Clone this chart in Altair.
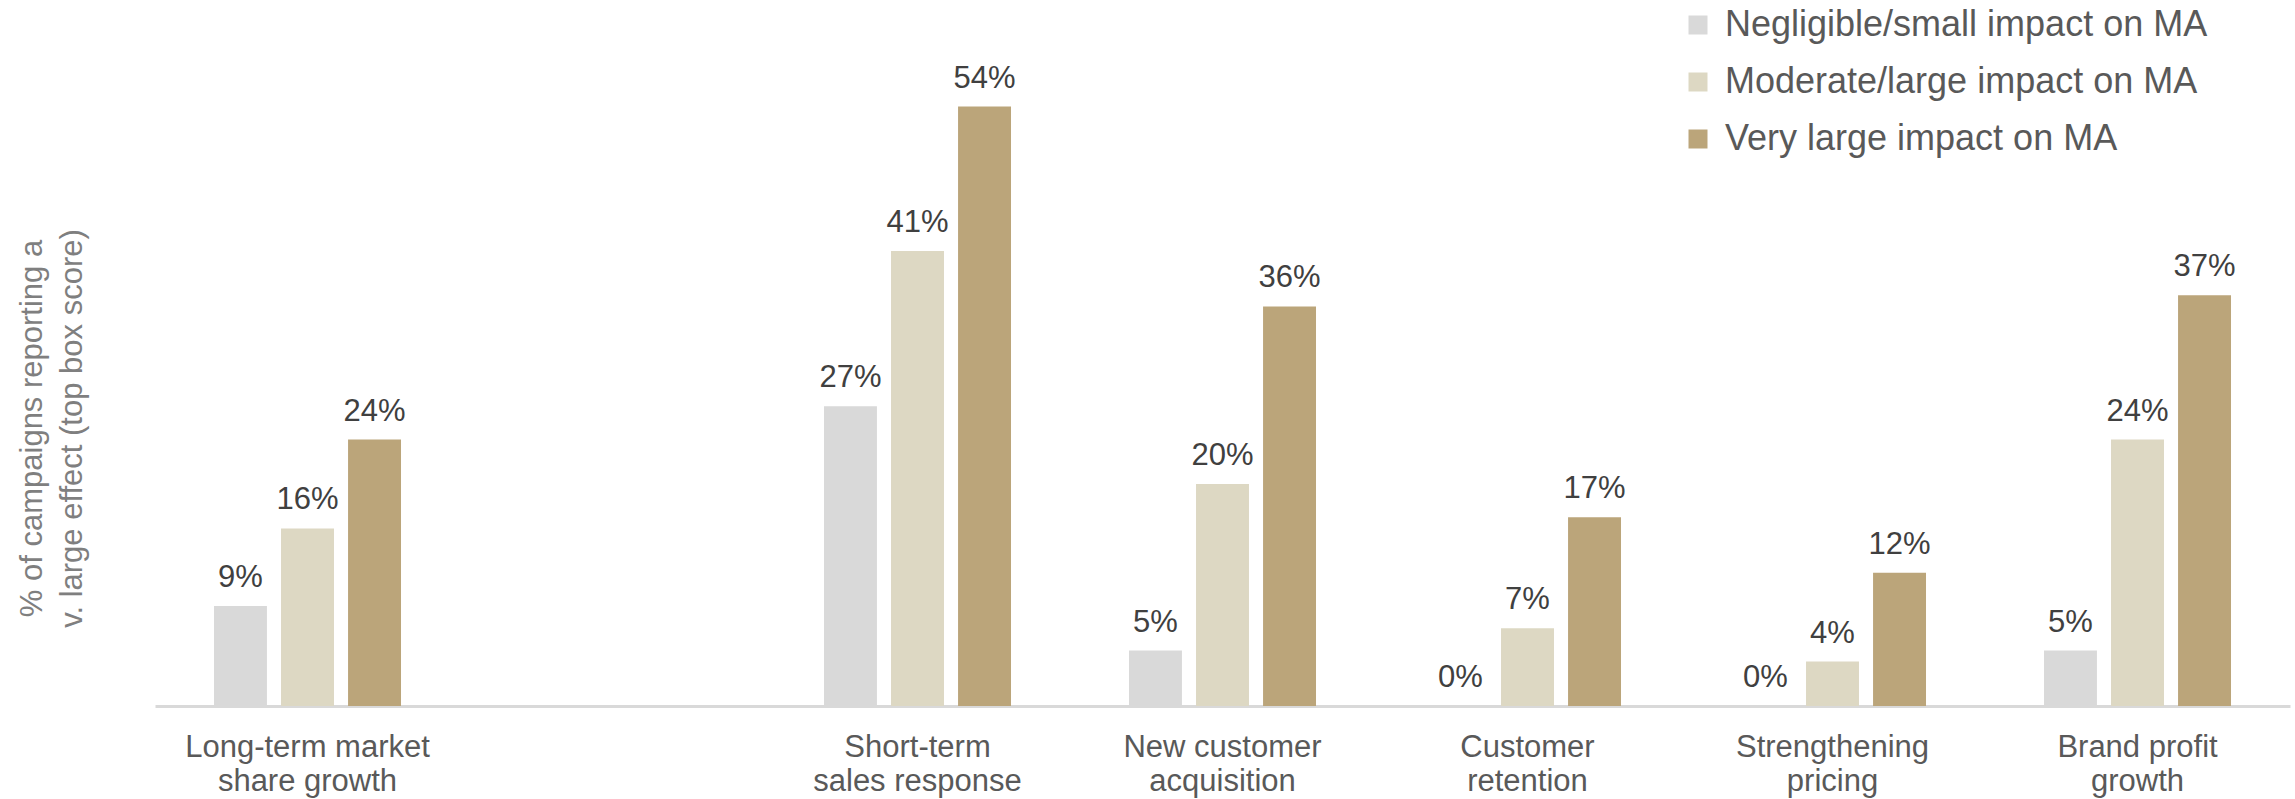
import altair as alt
import pandas as pd

# Categories (the blank one is the empty slot in the reference)
categories = [
    "Long-term market|share growth",
    " ",
    "Short-term|sales response",
    "New customer|acquisition",
    "Customer|retention",
    "Strengthening|pricing",
    "Brand profit|growth",
]
series = [
    "Negligible/small impact on MA",
    "Moderate/large impact on MA",
    "Very large impact on MA",
]
colors = ["#D9D9D9", "#DDD8C3", "#BBA57A"]

# Values (%) per series, for the non-empty categories
data_categories = [
    "Long-term market|share growth",
    "Short-term|sales response",
    "New customer|acquisition",
    "Customer|retention",
    "Strengthening|pricing",
    "Brand profit|growth",
]
negligible = [9, 27, 5, 0, 0, 5]
moderate = [16, 41, 20, 7, 4, 24]
very_large = [24, 54, 36, 17, 12, 37]

rows = []
for s, vals in zip(series, [negligible, moderate, very_large]):
    for c, v in zip(data_categories, vals):
        rows.append({"category": c, "series": s, "value": v, "label": f"{v}%"})
df = pd.DataFrame(rows)

FONT = "Liberation Sans"

x_enc = alt.X(
    "category:N",
    sort=categories,
    scale=alt.Scale(domain=categories, paddingInner=0, paddingOuter=0),
    axis=alt.Axis(
        title=None,
        labelExpr="split(datum.label, '|')",
        labelAngle=0,
        labelFont=FONT,
        labelFontSize=31,
        labelColor="#595959",
        labelLineHeight=34,
        labelPadding=26,
        labelBaseline="top",
        labelLimit=1000,
        ticks=False,
        tickSize=0,
        domainColor="#D9D9D9",
        domainWidth=3,
        grid=False,
    ),
)
xoff_enc = alt.XOffset(
    "series:N",
    sort=series,
    scale=alt.Scale(domain=series, paddingInner=0.21, paddingOuter=0.88),
)
y_enc = alt.Y(
    "value:Q",
    scale=alt.Scale(domain=[0, 60], nice=False),
    axis=alt.Axis(
        title=["% of campaigns reporting a", "v. large effect (top box score)"],
        titleFont=FONT,
        titleFontSize=31,
        titleFontWeight="normal",
        titleColor="#7F7F7F",
        titleAngle=-90,
        titleAlign="center",
        titleBaseline="top",
        titleLineHeight=40,
        titleX=-138,
        titleY=388,
        labels=False,
        ticks=False,
        domain=False,
        grid=False,
    ),
)

bars = alt.Chart(df).mark_bar().encode(
    x=x_enc,
    xOffset=xoff_enc,
    y=y_enc,
    color=alt.Color(
        "series:N",
        sort=series,
        scale=alt.Scale(domain=series, range=colors),
        legend=alt.Legend(
            title=None,
            orient="none",
            legendX=1525,
            legendY=-33,
            padding=0,
            symbolType="square",
            symbolSize=361,
            symbolStrokeWidth=0,
            symbolOpacity=1,
            labelFont=FONT,
            labelFontSize=36,
            labelColor="#595959",
            labelOffset=9,
            rowPadding=21,
            labelLimit=800,
        ),
    ),
)

labels = alt.Chart(df).mark_text(
    font=FONT, fontSize=31, color="#404040", baseline="alphabetic", dy=-19
).encode(
    x=alt.X("category:N", sort=categories, scale=alt.Scale(domain=categories)),
    xOffset=alt.XOffset("series:N", sort=series, scale=alt.Scale(domain=series)),
    y=alt.Y("value:Q"),
    text="label:N",
)

chart = (
    alt.layer(bars, labels)
    .properties(
        width=2135,
        height=666,
        autosize=alt.AutoSizeParams(type="none"),
        padding={"left": 155, "top": 40, "right": 5, "bottom": 93},
        background="white",
    )
    .configure_view(stroke=None)
)

chart.save("out.html", embed_options={"renderer": "svg", "actions": False})
